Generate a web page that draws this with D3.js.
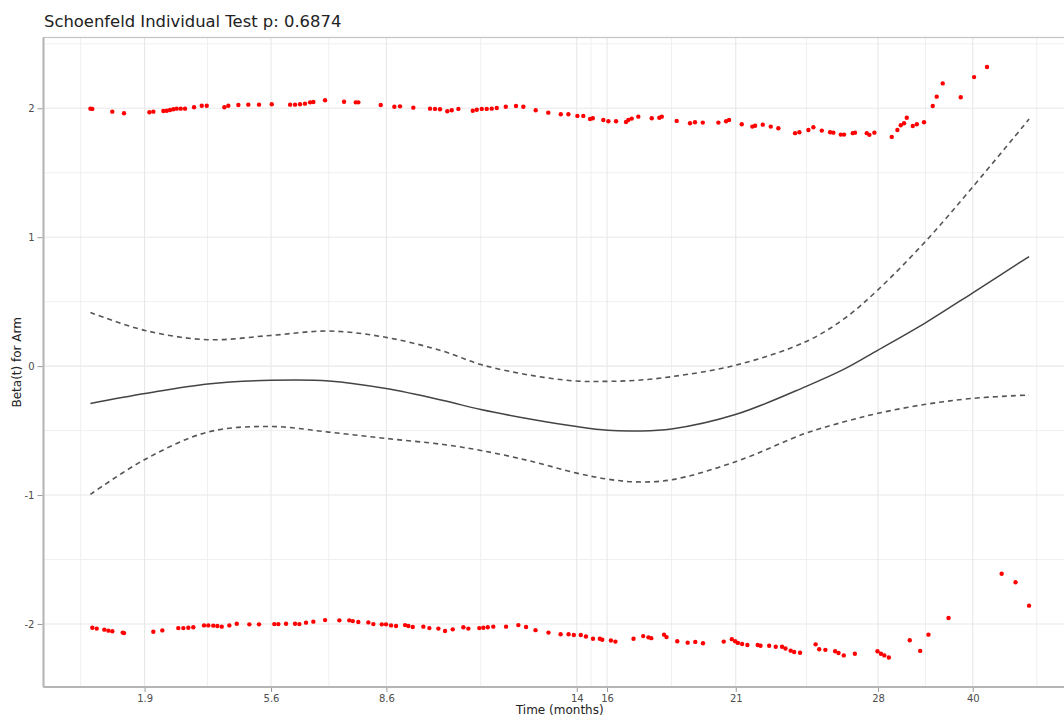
<!DOCTYPE html>
<html><head><meta charset="utf-8">
<script src="https://cdn.jsdelivr.net/npm/d3@7"></script>
<style>
body{margin:0;background:#fff;}
svg{display:block;font-family:"DejaVu Sans",sans-serif;}
</style>
</head><body>
<svg id="chart" width="1064" height="718"></svg>
<script>
// ---------- data ----------
const chartTitle = "Schoenfeld Individual Test p: 0.6874";
const xTitle = "Time (months)";
const yTitle = "Beta(t) for Arm";

// x axis is on a transformed time scale; positions in transformed units, labels in months
const xTickLabels = ["1.9", "5.6", "8.6", "14", "16", "21", "28", "40"];
const xTickPos = [5.77, 19.24, 31.53, 51.81, 55.04, 68.75, 83.91, 94.0];
const xMinorPos = [-1.04, 12.47, 25.39, 41.58, 53.33, 61.91, 76.29, 88.97, 100.82];
const yTicks = [-2, -1, 0, 1, 2];
const yMinor = [-2.5, -1.5, -0.5, 0.5, 1.5, 2.5];

// scaled Schoenfeld residuals [transformed time, beta(t)]
const residUpper = [[0.0,1.997],[0.2,1.995],[2.33,1.974],[3.58,1.961],[6.28,1.969],[6.70,1.974],[7.77,1.979],[8.13,1.981],[8.48,1.987],[8.83,1.992],[9.19,1.997],[9.62,1.997],[10.08,1.997],[11.04,2.008],[11.86,2.020],[12.39,2.020],[14.27,2.008],[14.69,2.020],[15.76,2.026],[16.82,2.028],[17.96,2.028],[19.32,2.031],[21.27,2.028],[21.80,2.028],[22.33,2.031],[22.86,2.036],[23.40,2.046],[23.75,2.049],[25.00,2.062],[27.02,2.051],[28.27,2.046],[28.54,2.046],[30.93,2.026],[32.38,2.012],[32.98,2.015],[34.40,2.005],[36.18,1.997],[36.71,1.995],[37.24,1.992],[38.02,1.977],[38.49,1.985],[39.20,1.995],[40.73,1.981],[41.16,1.989],[41.69,1.995],[42.22,1.995],[42.75,1.997],[43.29,2.002],[44.25,2.012],[45.34,2.018],[46.12,2.012],[47.44,1.985],[48.78,1.966],[50.11,1.954],[50.92,1.954],[51.88,1.941],[52.51,1.941],[53.23,1.917],[53.52,1.923],[54.64,1.909],[55.18,1.899],[56.00,1.899],[57.06,1.894],[57.31,1.909],[57.67,1.920],[58.37,1.935],[59.80,1.923],[60.61,1.927],[60.87,1.935],[62.46,1.902],[63.88,1.884],[64.41,1.892],[65.24,1.889],[66.90,1.889],[67.72,1.899],[68.04,1.909],[69.39,1.876],[70.52,1.858],[70.81,1.865],[71.63,1.873],[72.48,1.858],[73.29,1.845],[75.07,1.807],[75.53,1.814],[76.49,1.832],[77.02,1.853],[77.92,1.827],[78.80,1.814],[79.15,1.811],[79.94,1.796],[80.29,1.796],[81.22,1.807],[81.46,1.811],[82.71,1.807],[82.99,1.794],[83.52,1.811],[85.37,1.778],[85.97,1.832],[86.33,1.868],[86.68,1.884],[86.97,1.927],[87.61,1.863],[88.04,1.876],[88.81,1.892],[89.74,2.018],[90.16,2.090],[90.80,2.193],[92.72,2.085],[94.14,2.242],[95.52,2.320]];

const residLower = [[0.20,-2.029],[0.67,-2.036],[1.48,-2.044],[1.91,-2.052],[2.33,-2.057],[3.44,-2.067],[3.58,-2.071],[6.70,-2.060],[7.66,-2.050],[9.36,-2.032],[9.90,-2.032],[10.43,-2.029],[10.96,-2.026],[12.10,-2.011],[12.56,-2.011],[13.09,-2.013],[13.52,-2.016],[13.99,-2.021],[14.80,-2.011],[15.59,-1.998],[16.93,-2.003],[17.96,-2.003],[19.59,-2.001],[20.02,-2.001],[20.84,-1.998],[21.80,-1.998],[22.26,-2.001],[22.97,-1.990],[23.75,-1.982],[25.00,-1.970],[26.52,-1.972],[27.58,-1.972],[27.95,-1.978],[28.54,-1.985],[29.61,-1.988],[30.14,-2.001],[31.04,-2.003],[31.49,-2.003],[32.03,-2.011],[32.56,-2.016],[33.52,-2.009],[33.87,-2.016],[34.34,-2.024],[35.47,-2.021],[36.11,-2.032],[37.07,-2.036],[37.78,-2.055],[38.60,-2.042],[39.73,-2.026],[40.26,-2.036],[41.43,-2.032],[41.86,-2.029],[42.33,-2.026],[42.92,-2.021],[44.28,-2.021],[45.59,-2.009],[46.41,-2.024],[47.42,-2.048],[48.80,-2.067],[50.09,-2.080],[50.94,-2.080],[51.50,-2.086],[52.24,-2.086],[52.79,-2.097],[53.54,-2.115],[54.27,-2.115],[54.53,-2.123],[55.45,-2.128],[55.93,-2.137],[57.86,-2.115],[58.89,-2.094],[59.45,-2.104],[59.75,-2.110],[61.11,-2.083],[61.37,-2.102],[62.52,-2.134],[63.63,-2.145],[64.44,-2.139],[65.26,-2.150],[67.47,-2.137],[68.33,-2.118],[68.69,-2.134],[68.98,-2.147],[69.43,-2.156],[69.99,-2.163],[71.09,-2.163],[71.39,-2.169],[72.31,-2.169],[73.01,-2.177],[73.68,-2.177],[74.05,-2.190],[74.60,-2.207],[74.97,-2.217],[75.60,-2.223],[77.26,-2.158],[77.64,-2.196],[78.30,-2.201],[79.34,-2.212],[79.70,-2.225],[80.26,-2.244],[81.44,-2.231],[83.85,-2.212],[84.22,-2.231],[84.58,-2.244],[85.06,-2.260],[87.29,-2.126],[88.40,-2.209],[89.28,-2.083],[91.42,-1.954],[97.08,-1.611],[98.56,-1.677],[100.00,-1.858]];

// smoothed beta(t) with confidence band
const fitTime  = [0, 5.8, 12.5, 19.2, 25.4, 31.5, 37.6, 41.6, 46.8, 51.8, 55.1, 58.2, 61.9, 68.8, 76.2, 80.4, 83.9, 89.0, 94.0, 100];
const fitBeta  = [-0.290, -0.213, -0.138, -0.110, -0.115, -0.174, -0.267, -0.337, -0.410, -0.469, -0.498, -0.503, -0.488, -0.374, -0.159, -0.020, 0.124, 0.338, 0.569, 0.850];
const fitUpper = [0.416, 0.277, 0.205, 0.238, 0.272, 0.223, 0.115, 0.012, -0.070, -0.116, -0.118, -0.110, -0.082, 0.008, 0.189, 0.373, 0.592, 0.970, 1.390, 1.916];
const fitLower = [-0.995, -0.724, -0.512, -0.468, -0.512, -0.561, -0.608, -0.654, -0.735, -0.830, -0.877, -0.898, -0.882, -0.740, -0.521, -0.430, -0.366, -0.296, -0.250, -0.224];

// ---------- layout ----------
const svg = d3.select("#chart");
const W = 1064, H = 718;
const panel = {left: 43.5, right: 1076, top: 37.5, bottom: 687};

const allPts = residUpper.concat(residLower);
const xExt = d3.extent(allPts, d => d[0]);
const yExt = d3.extent(allPts, d => d[1]);
const xPad = (xExt[1] - xExt[0]) * 0.05, yPad = (yExt[1] - yExt[0]) * 0.05;
const x = d3.scaleLinear().domain([xExt[0] - xPad, xExt[1] + xPad]).range([panel.left, panel.right]);
const y = d3.scaleLinear().domain([yExt[0] - yPad, yExt[1] + yPad]).range([panel.bottom, panel.top]);

svg.append("rect").attr("width", W).attr("height", H).attr("fill", "#fff");

const g = svg.append("g");
const inY = v => v >= y.domain()[0] && v <= y.domain()[1];

// minor grid
g.selectAll(".hmin").data(yMinor.filter(inY)).enter().append("line")
  .attr("x1", panel.left).attr("x2", panel.right)
  .attr("y1", d => y(d)).attr("y2", d => y(d))
  .attr("stroke", "#f0f0f0").attr("stroke-width", 1);
g.selectAll(".vmin").data(xMinorPos).enter().append("line")
  .attr("y1", panel.top).attr("y2", panel.bottom)
  .attr("x1", d => x(d)).attr("x2", d => x(d))
  .attr("stroke", "#f0f0f0").attr("stroke-width", 1);
// major grid
g.selectAll(".hmaj").data(yTicks).enter().append("line")
  .attr("x1", panel.left).attr("x2", panel.right)
  .attr("y1", d => y(d)).attr("y2", d => y(d))
  .attr("stroke", "#e8e8e8").attr("stroke-width", 1.1);
g.selectAll(".vmaj").data(xTickPos).enter().append("line")
  .attr("y1", panel.top).attr("y2", panel.bottom)
  .attr("x1", d => x(d)).attr("x2", d => x(d))
  .attr("stroke", "#e8e8e8").attr("stroke-width", 1.1);

// panel border
g.append("rect").attr("x", panel.left).attr("y", panel.top)
  .attr("width", panel.right - panel.left).attr("height", panel.bottom - panel.top)
  .attr("fill", "none").attr("stroke", "#c4c4c4").attr("stroke-width", 1.2);

// curves
const line = (vals) => d3.line()
  .x((d, i) => x(fitTime[i])).y(d => y(d))
  .curve(d3.curveCatmullRom.alpha(0.5))(vals);

g.append("path").attr("d", line(fitUpper)).attr("fill", "none")
  .attr("stroke", "#555").attr("stroke-width", 1.6).attr("stroke-dasharray", "5,4");
g.append("path").attr("d", line(fitLower)).attr("fill", "none")
  .attr("stroke", "#555").attr("stroke-width", 1.6).attr("stroke-dasharray", "5,4");
g.append("path").attr("d", line(fitBeta)).attr("fill", "none")
  .attr("stroke", "#444").attr("stroke-width", 1.5);

// points
g.selectAll(".pt").data(allPts).enter().append("circle")
  .attr("cx", d => x(d[0])).attr("cy", d => y(d[1])).attr("r", 2.2)
  .attr("fill", "#ff0000");

// axis lines (left & bottom)
g.append("line").attr("x1", panel.left).attr("x2", panel.left)
  .attr("y1", panel.top).attr("y2", panel.bottom)
  .attr("stroke", "#b5b5b5").attr("stroke-width", 2);
g.append("line").attr("x1", panel.left).attr("x2", panel.right)
  .attr("y1", panel.bottom).attr("y2", panel.bottom)
  .attr("stroke", "#b5b5b5").attr("stroke-width", 2);

// y axis ticks/labels
const yAxis = d3.axisLeft(y).tickValues(yTicks).tickSize(5).tickPadding(3).tickFormat(d => String(d));
const ya = svg.append("g").attr("transform", `translate(${panel.left - 1},0)`).call(yAxis);
ya.select(".domain").remove();
ya.selectAll(".tick line").attr("stroke", "#999");
ya.selectAll(".tick text").attr("fill", "#4d4d4d").style("font-size", "10px")
  .style("font-family", "DejaVu Sans");

// x axis ticks/labels
const xAxis = d3.axisBottom(x).tickValues(xTickPos).tickSize(4).tickPadding(3)
  .tickFormat((d, i) => xTickLabels[i]);
const xa = svg.append("g").attr("transform", `translate(0,${panel.bottom + 1})`).call(xAxis);
xa.select(".domain").remove();
xa.selectAll(".tick line").attr("stroke", "#999");
xa.selectAll(".tick text").attr("fill", "#4d4d4d").style("font-size", "10px")
  .style("font-family", "DejaVu Sans");

// titles
svg.append("text").attr("x", 44).attr("y", 27).text(chartTitle)
  .attr("fill", "#222").style("font-size", "16.4px");
svg.append("text").attr("x", (panel.left + panel.right) / 2).attr("y", 714)
  .attr("text-anchor", "middle").text(xTitle).attr("fill", "#222").style("font-size", "12px");
svg.append("text").attr("transform", `translate(21,${(panel.top + panel.bottom) / 2}) rotate(-90)`)
  .attr("text-anchor", "middle").text(yTitle).attr("fill", "#222").style("font-size", "12px");
</script>
</body></html>
